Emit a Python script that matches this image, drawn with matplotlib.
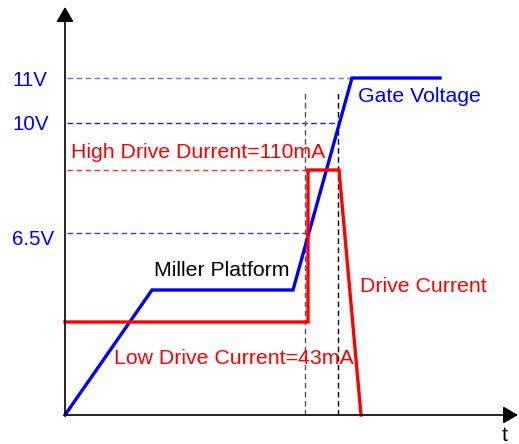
import matplotlib
matplotlib.use('Agg')
from matplotlib import pyplot as plt

plt.rcParams['font.family'] = ['Liberation Sans', 'DejaVu Sans']

# schematic units (time / level), origin at the axes corner
gate_t = [0, 87, 228, 287, 375]
gate_v = [0, 125, 125, 337, 337]

drive_t = [0, 243, 243, 274, 296]
drive_i = [93, 93, 245, 245, 0]

volt_levels = [337, 292, 182]
volt_labels = ['11V', '10V', '6.5V']
volt_ends = [287, 273, 242]        # where each dashed guide stops
volt_colors = ['#6b6bff', '#2020d0', '#3a3ae0']
volt_label_y = [334, 290, 176]

high_level = 245
t_marks = [240, 273]

fig = plt.figure(figsize=(5.19, 4.44), dpi=100)
ax = fig.add_axes([0, 0, 1, 1])
ax.set_xlim(-65, 454)
ax.set_ylim(-29, 415)
ax.axis('off')

# guide lines
for lv, end, c in zip(volt_levels, volt_ends, volt_colors):
    ax.plot([2, end], [lv, lv], color=c, lw=1, ls=(0, (4, 2.5)))
ax.plot([2, drive_t[2]], [high_level, high_level], color='#ff3030', lw=1, ls=(0, (4, 2.5)))
ax.plot([t_marks[0], t_marks[0]], [0, 323], color='#555555', lw=1, ls=(0, (4, 2.5)))
ax.plot([t_marks[1], t_marks[1]], [0, 323], color='black', lw=1, ls=(0, (4, 2.5)))

# curves
ax.plot(gate_t, gate_v, color='#0000ff', lw=2.4, solid_joinstyle='miter')
ax.plot(drive_t, drive_i, color='#ff0000', lw=2.4, solid_joinstyle='miter')

# axes with arrows
arr = dict(arrowstyle='-|>,head_length=0.6,head_width=0.35', mutation_scale=15,
           color='black', lw=1.2, shrinkA=0, shrinkB=0)
ax.annotate('', xy=(0, 408), xytext=(0, 0), arrowprops=arr)
ax.annotate('', xy=(453, 0), xytext=(0, 0), arrowprops=arr)

fs = 15.3
for lbl, y in zip(volt_labels, volt_label_y):
    ax.text(-53, y, lbl, color='#0000ff', fontsize=14.8, ha='left', va='center')
ax.text(6, 262, 'High Drive Durrent=110mA', color='#ff0000', fontsize=fs, va='center')
ax.text(293, 318, 'Gate Voltage', color='#0000ff', fontsize=fs, va='center')
ax.text(89, 145, 'Miller Platform', color='black', fontsize=fs, va='center')
ax.text(295, 128, 'Drive Current', color='#ff0000', fontsize=fs, va='center')
ax.text(49, 57, 'Low Drive Current=43mA', color='#ff0000', fontsize=fs, va='center')
ax.text(437, -20, 't', color='black', fontsize=fs, va='center')

plt.savefig('out.png', dpi=100)
